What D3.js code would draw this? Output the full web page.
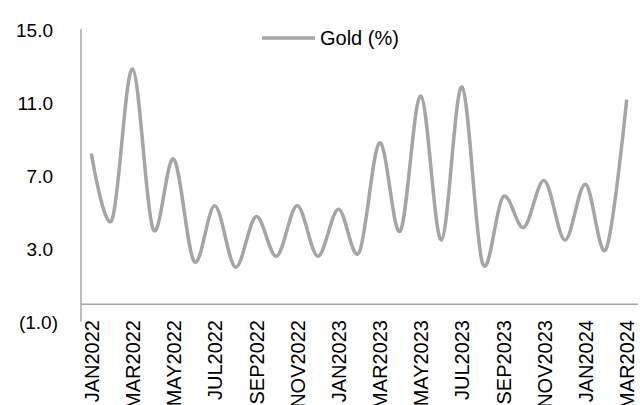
<!DOCTYPE html>
<html>
<head>
<meta charset="utf-8">
<script src="https://d3js.org/d3.v7.min.js"></script>
<style>
  body { margin: 0; background: #fff; }
  text { font-family: "Liberation Sans", Arial, sans-serif; fill: #000; }
</style>
</head>
<body>
<svg id="chart" width="640" height="405"></svg>
<script>
// monthly gold (%) Jan 2022 - Mar 2024
var months = ["JAN2022","FEB2022","MAR2022","APR2022","MAY2022","JUN2022","JUL2022","AUG2022","SEP2022","OCT2022","NOV2022","DEC2022",
              "JAN2023","FEB2023","MAR2023","APR2023","MAY2023","JUN2023","JUL2023","AUG2023","SEP2023","OCT2023","NOV2023","DEC2023",
              "JAN2024","FEB2024","MAR2024"];
var gold = [8.24, 4.6, 12.87, 4.1, 7.94, 2.33, 5.38, 2.03, 4.79, 2.63, 5.38, 2.63,
            5.19, 2.82, 8.83, 4.0, 11.39, 3.51, 11.88, 2.23, 5.88, 4.2, 6.76, 3.51,
            6.56, 3.02, 11.19];
var yTicks = [-1, 3, 7, 11, 15];
var seriesName = "Gold (%)";

var svg = d3.select("#chart");

var x = d3.scaleBand().domain(months).range([81, 637]);
var y = d3.scaleLinear().domain([-1, 15]).range([322.5, 30]);

var fmt = function(v) {
  return v < 0 ? "(" + Math.abs(v).toFixed(1) + ")" : v.toFixed(1);
};

// y axis line
svg.append("line")
  .attr("x1", 81).attr("x2", 81)
  .attr("y1", y(15) - 1).attr("y2", y(-1) - 1)
  .style("stroke", "#a6a6a6").style("stroke-width", 1.5);

// y tick labels (positive ones leave room for the ")")
svg.selectAll(".ylab")
  .data(yTicks)
  .enter().append("text")
  .attr("class", "ylab")
  .attr("x", function(d) { return d < 0 ? 58 : 53; })
  .attr("y", function(d) { return y(d); })
  .attr("dy", "0.35em")
  .attr("text-anchor", "end")
  .style("font-size", "19px")
  .text(fmt);

// category axis crosses at 0
svg.append("line")
  .attr("x1", 81).attr("x2", 638)
  .attr("y1", y(0)).attr("y2", y(0))
  .style("stroke", "#a6a6a6").style("stroke-width", 1.5);

// month labels, every second one
svg.selectAll(".xlab")
  .data(months.filter(function(d, i) { return i % 2 === 0; }))
  .enter().append("text")
  .attr("class", "xlab")
  .attr("transform", function(d) {
    return "translate(" + (x(d) + x.bandwidth() / 2 + 0.5) + ",320) rotate(-90)";
  })
  .attr("dy", "0.35em")
  .attr("text-anchor", "end")
  .style("font-size", "20px")
  .text(function(d) { return d; });

var line = d3.line()
  .curve(d3.curveCardinal.tension(0))
  .x(function(d, i) { return x(months[i]) + x.bandwidth() / 2; })
  .y(function(d) { return y(d); });

svg.append("path")
  .datum(gold)
  .attr("d", line)
  .style("fill", "none")
  .style("stroke", "#a5a5a5")
  .style("stroke-width", 3.5);

// legend
svg.append("line")
  .attr("x1", 262).attr("x2", 315)
  .attr("y1", 38).attr("y2", 38)
  .style("stroke", "#a5a5a5").style("stroke-width", 3.5);

svg.append("text")
  .attr("x", 320).attr("y", 38)
  .attr("dy", "0.35em")
  .style("font-size", "20px")
  .text(seriesName);
</script>
</body>
</html>
